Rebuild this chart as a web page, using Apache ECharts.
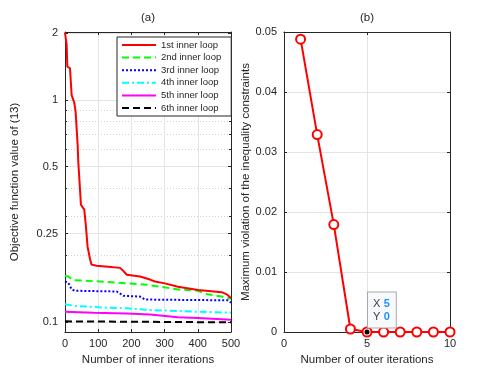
<!DOCTYPE html>
<html>
<head>
<meta charset="utf-8">
<script src="https://cdn.jsdelivr.net/npm/echarts@6/dist/echarts.min.js"></script>
<style>
  html, body { margin: 0; padding: 0; background: #fff; }
  #main { width: 498px; height: 374px; }
</style>
</head>
<body>
<div id="main"></div>
<script>
// (a) objective value per inner iteration, one pair of arrays per loop
var loop1Iter = [0, 5, 7, 15, 20, 28, 32, 38, 40, 42, 48, 58, 63, 68, 73, 76, 80, 85, 95, 130, 166, 175, 186, 226, 256, 271, 301, 340, 401, 472, 487, 500]
var loop1Obj = [2.0, 1.77, 1.41, 1.39, 1.05, 0.97, 0.88, 0.63, 0.527, 0.52, 0.337, 0.32, 0.27, 0.218, 0.215, 0.19, 0.181, 0.18, 0.179, 0.177, 0.175, 0.17, 0.163, 0.16, 0.155, 0.152, 0.149, 0.144, 0.139, 0.136, 0.133, 0.128]
var loop2Iter = [0, 10, 25, 105, 186, 246, 271, 340, 400, 430, 472, 500]
var loop2Obj = [0.161, 0.16, 0.154, 0.152, 0.149, 0.147, 0.145, 0.14, 0.138, 0.133, 0.13, 0.127]
var loop3Iter = [0, 10, 20, 30, 156, 176, 226, 241, 490, 500]
var loop3Obj = [0.152, 0.15, 0.14, 0.138, 0.137, 0.131, 0.13, 0.126, 0.125, 0.122]
var loop4Iter = [0, 30, 115, 186, 256, 340, 400, 500]
var loop4Obj = [0.12, 0.118, 0.116, 0.115, 0.113, 0.112, 0.111, 0.11]
var loop5Iter = [0, 85, 186, 256, 340, 400, 500]
var loop5Obj = [0.111, 0.11, 0.109, 0.108, 0.105, 0.104, 0.1023]
var loop6Iter = [0, 500]
var loop6Obj = [0.1005, 0.0995]
var loopNames = ['1st inner loop', '2nd inner loop', '3rd inner loop', '4th inner loop', '5th inner loop', '6th inner loop']
var majorTicksA = [0.1, 0.25, 0.5, 1, 2]
var minorTicksA = [0.2, 0.3, 0.4, 0.6, 0.7, 0.8, 0.9]

// (b) max violation per outer iteration
var outerIter = [1, 2, 3, 4, 5, 6, 7, 8, 9, 10]
var violation = [0.0488, 0.0329, 0.0179, 0.0005, 0, 0, 0, 0, 0, 0]
var tipIndex = 4

var txt = '#262626'
var font = 'Liberation Sans, Arial, Helvetica, sans-serif'

function pairs(xs, ys) {
  return xs.map(function(x, i) { return [x, ys[i]] })
}

function boxAxis(grid, pos, extra) {
  var a = {
    gridIndex: grid,
    position: pos,
    axisLine: { show: true, onZero: false, lineStyle: { color: txt, width: 1 } },
    axisTick: { show: true, inside: true, length: 3, lineStyle: { color: txt } },
    axisLabel: { show: false },
    splitLine: { show: false }
  }
  for (var k in extra) a[k] = extra[k]
  return a
}

var loopStyles = [
  { color: '#ff0000', type: 'solid' },
  { color: '#00ff00', type: [7, 4] },
  { color: '#0000ff', type: [2, 2] },
  { color: '#00ffff', type: [7, 3, 2, 3] },
  { color: '#ff00ff', type: 'solid' },
  { color: '#000000', type: [7, 4] }
]
var loopIters = [loop1Iter, loop2Iter, loop3Iter, loop4Iter, loop5Iter, loop6Iter]
var loopObjs = [loop1Obj, loop2Obj, loop3Obj, loop4Obj, loop5Obj, loop6Obj]

var series = loopNames.map(function(name, i) {
  return {
    name: name,
    type: 'line',
    xAxisIndex: 0,
    yAxisIndex: 0,
    symbol: 'none',
    z: 10 - i,
    lineStyle: { color: loopStyles[i].color, type: loopStyles[i].type, width: 2, cap: 'butt' },
    itemStyle: { color: loopStyles[i].color },
    data: pairs(loopIters[i], loopObjs[i])
  }
})

series.push({
  name: 'violation',
  type: 'line',
  xAxisIndex: 2,
  yAxisIndex: 4,
  symbol: 'emptyCircle',
  symbolSize: 9,
  lineStyle: { color: '#ff0000', width: 2 },
  itemStyle: { color: '#ff0000', borderWidth: 2, borderColor: '#ff0000' },
  data: pairs(outerIter, violation),
  markPoint: {
    symbol: 'circle',
    symbolSize: 5,
    itemStyle: { color: '#000' },
    data: [{ coord: [outerIter[tipIndex], violation[tipIndex]] }],
    label: {
      show: true,
      position: [3.5, -37],
      formatter: '{k|X} {v|' + outerIter[tipIndex] + '}\n{k|Y} {v|' + violation[tipIndex] + '}',
      backgroundColor: '#f8f9fd',
      borderColor: '#a9a9a9',
      borderWidth: 1,
      padding: [5, 6, 4, 5],
      rich: {
        k: { color: '#404040', fontSize: 11, lineHeight: 13, fontFamily: font },
        v: { color: '#1a90ff', fontSize: 11, lineHeight: 13, fontWeight: 'bold', fontFamily: font }
      }
    }
  }
})

var chart = echarts.init(document.getElementById('main'))
chart.setOption({
  animation: false,
  backgroundColor: '#fff',
  textStyle: { fontFamily: font, color: txt },
  title: [
    { text: '(a)', left: 148, top: 12, textAlign: 'center', padding: 0, textStyle: { fontSize: 11.5, fontWeight: 'normal', color: txt, fontFamily: font } },
    { text: '(b)', left: 367, top: 12, textAlign: 'center', padding: 0, textStyle: { fontSize: 11.5, fontWeight: 'normal', color: txt, fontFamily: font } }
  ],
  legend: {
    data: loopNames,
    orient: 'vertical',
    left: 117,
    top: 37,
    itemWidth: 34,
    itemHeight: 10,
    itemGap: 2.6,
    padding: [3, 10, 3, 4],
    backgroundColor: '#fff',
    borderColor: txt,
    borderWidth: 1,
    borderRadius: 0,
    // line only, no marker in the middle of the legend sample
    itemStyle: { color: 'transparent', borderColor: 'transparent', borderWidth: 0 },
    textStyle: { fontSize: 9.5, color: txt, fontFamily: font }
  },
  grid: [
    { left: 65, top: 32, width: 166, height: 300 },
    { left: 284, top: 32, width: 166, height: 300 }
  ],
  xAxis: [
    boxAxis(0, 'bottom', {
      type: 'value', min: 0, max: 500, interval: 100,
      name: 'Number of inner iterations', nameLocation: 'middle', nameGap: 19,
      nameTextStyle: { fontSize: 11.5, color: txt, fontFamily: font },
      axisLabel: { show: true, margin: 6, fontSize: 11, color: txt, fontFamily: font },
      splitLine: { show: true, lineStyle: { color: '#e4e4e4', width: 1 } }
    }),
    boxAxis(0, 'top', { type: 'value', min: 0, max: 500, interval: 100 }),
    boxAxis(1, 'bottom', {
      type: 'value', min: 0, max: 10, interval: 5,
      name: 'Number of outer iterations', nameLocation: 'middle', nameGap: 19,
      nameTextStyle: { fontSize: 11.5, color: txt, fontFamily: font },
      axisLabel: { show: true, margin: 6, fontSize: 11, color: txt, fontFamily: font },
      splitLine: { show: true, lineStyle: { color: '#e4e4e4', width: 1 } }
    }),
    boxAxis(1, 'top', { type: 'value', min: 0, max: 10, interval: 5 })
  ],
  yAxis: [
    boxAxis(0, 'left', {
      type: 'log', min: 0.09, max: 2.02,
      name: 'Objective function value of (13)', nameLocation: 'middle', nameGap: 44,
      nameTextStyle: { fontSize: 11.5, color: txt, fontFamily: font },
      axisTick: { show: true, inside: true, length: 3, customValues: majorTicksA, lineStyle: { color: txt } },
      axisLabel: { show: true, margin: 7, fontSize: 11, color: txt, fontFamily: font, customValues: majorTicksA },
      splitLine: { show: true, lineStyle: { color: '#e4e4e4', width: 1 } }
    }),
    // minor log ticks + dotted grid
    boxAxis(0, 'left', {
      type: 'log', min: 0.09, max: 2.02,
      axisLine: { show: false, onZero: false },
      axisTick: { show: true, inside: true, length: 2, customValues: minorTicksA, lineStyle: { color: txt } },
      splitLine: { show: true, lineStyle: { color: '#d2d2d2', width: 1, type: [1, 2] } }
    }),
    boxAxis(0, 'right', {
      type: 'log', min: 0.09, max: 2.02,
      axisTick: { show: true, inside: true, length: 3, customValues: majorTicksA, lineStyle: { color: txt } }
    }),
    boxAxis(0, 'right', {
      type: 'log', min: 0.09, max: 2.02,
      axisLine: { show: false, onZero: false },
      axisTick: { show: true, inside: true, length: 2, customValues: minorTicksA, lineStyle: { color: txt } }
    }),
    boxAxis(1, 'left', {
      type: 'value', min: 0, max: 0.05, interval: 0.01,
      name: 'Maximum violation of the inequality constraints', nameLocation: 'middle', nameGap: 31,
      nameTextStyle: { fontSize: 11.5, color: txt, fontFamily: font },
      axisLabel: { show: true, margin: 7, fontSize: 11, color: txt, fontFamily: font },
      splitLine: { show: true, lineStyle: { color: '#e4e4e4', width: 1 } }
    }),
    boxAxis(1, 'right', { type: 'value', min: 0, max: 0.05, interval: 0.01 })
  ],
  series: series
})
</script>
</body>
</html>
